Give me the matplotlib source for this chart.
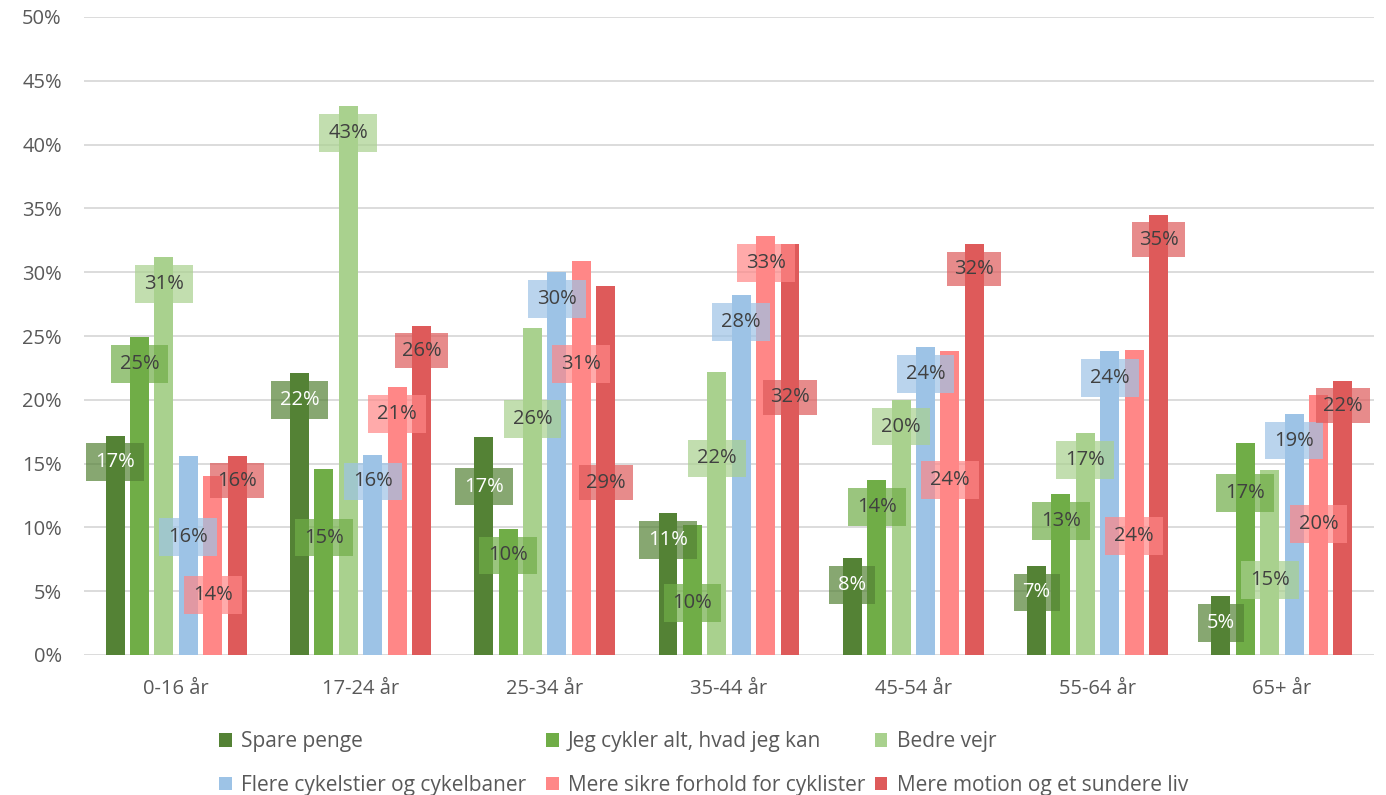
import matplotlib
matplotlib.use("Agg")
import matplotlib.pyplot as plt
import matplotlib.patches as mpatches
from matplotlib.transforms import IdentityTransform
from matplotlib.ticker import FuncFormatter, MultipleLocator
import numpy as np

categories = ["0-16 år", "17-24 år", "25-34 år", "35-44 år", "45-54 år", "55-64 år", "65+ år"]
series_names = ["Spare penge", "Jeg cykler alt, hvad jeg kan", "Bedre vejr",
                "Flere cykelstier og cykelbaner", "Mere sikre forhold for cyklister",
                "Mere motion og et sundere liv"]
spare = [17.2, 22.1, 17.1, 11.1, 7.6, 7.0, 4.6]
jeg = [24.9, 14.6, 9.9, 10.2, 13.7, 12.6, 16.6]
bedre = [31.2, 43.0, 25.6, 22.2, 20.0, 17.4, 14.5]
flere = [15.6, 15.7, 30.0, 28.2, 24.1, 23.8, 18.9]
sikre = [14.0, 21.0, 30.9, 32.8, 23.8, 23.9, 20.4]
motion = [15.6, 25.8, 28.9, 32.2, 32.2, 34.5, 21.5]

# manually moved data-label centres (None = default inside end)
spare_lab = [None, None, 13.2, None, None, None, None]
jeg_lab = [None, 9.2, 7.8, 4.1, None, None, 12.7]
bedre_lab = [None, None, 18.5, 15.4, None, None, 5.9]
flere_lab = [9.25, 13.6, None, None, None, None, None]
sikre_lab = [4.7, None, 22.8, None, 13.7, 9.3, 10.25]
motion_lab = [None, None, 13.5, 20.2, None, None, None]

colors = ["#548235", "#70AD47", "#A9D18E", "#9DC3E6", "#FF8787", "#DE5A5A"]
text_colors = ["white", "#404040", "#404040", "#404040", "#404040", "#404040"]

data = [spare, jeg, bedre, flere, sikre, motion]
labs = [spare_lab, jeg_lab, bedre_lab, flere_lab, sikre_lab, motion_lab]

FONT = "Open Sans"
plt.rcParams["font.family"] = [FONT, "DejaVu Sans"]

W, H = 1386, 795
fig = plt.figure(figsize=(W / 100, H / 100), dpi=100)
ax = fig.add_axes([84 / W, 1 - 655 / H, (1374 - 84) / W, (655 - 17) / H])

x = np.arange(len(categories))
pitch = 0.1324
bw = 0.103
handles = []
for j, vals in enumerate(data):
    h = ax.bar(x + (j - 2.5) * pitch, vals, width=bw, color=colors[j], zorder=2,
               label=series_names[j])
    handles.append(h)

ax.set_ylim(0, 50)
ax.set_xlim(-0.5, len(categories) - 0.5)
ax.yaxis.set_major_locator(MultipleLocator(5))
ax.yaxis.set_major_formatter(FuncFormatter(lambda v, p: f"{int(round(v))}%"))
ax.set_xticks(x)
ax.set_xticklabels(categories)
ax.grid(axis="y", color="#D9D9D9", linewidth=1.3, zorder=0)
ax.set_axisbelow(True)
for s in ax.spines.values():
    s.set_visible(False)
ax.tick_params(axis="both", length=0, labelsize=14.5, labelcolor="#595959")
ax.tick_params(axis="y", pad=16)
ax.tick_params(axis="x", pad=17)

# data labels
fig.canvas.draw()
renderer = fig.canvas.get_renderer()
for j, vals in enumerate(data):
    for i, v in enumerate(vals):
        xc = x[i] + (j - 2.5) * pitch
        if labs[j][i] is None:
            yc = v - (1.95 if j == 5 else 2.1)
        else:
            yc = labs[j][i]
        t = ax.text(xc, yc, f"{int(v + 0.5)}%", ha="center", va="center",
                    fontsize=14.5, color=text_colors[j], zorder=5)
        wpx = t.get_window_extent(renderer).width
        if j == 5:
            bwid, bh = wpx + 14, 34.7
        else:
            bwid, bh = wpx + 18, 37.7
        xd, yd = ax.transData.transform((xc, yc))
        rect = mpatches.Rectangle((xd - bwid / 2, yd - bh / 2), bwid, bh,
                                  transform=IdentityTransform(), facecolor=colors[j],
                                  alpha=0.7, edgecolor="none", zorder=4)
        ax.add_artist(rect)

# legend: three equal-width columns, two rows
col_x = [219, 546, 875]
cols = [[0, 3], [1, 4], [2, 5]]
for cx, idx in zip(col_x, cols):
    leg = fig.legend([handles[k] for k in idx], [series_names[k] for k in idx],
                     loc="center left", bbox_to_anchor=(cx / W, 1 - 763.5 / H),
                     frameon=False, fontsize=15, handlelength=0.6, handleheight=0.6,
                     handletextpad=0.45, labelspacing=1.07, borderpad=0,
                     borderaxespad=0)
    for t in leg.get_texts():
        t.set_color("#595959")

fig.savefig("out.png", dpi=100, facecolor="white")
